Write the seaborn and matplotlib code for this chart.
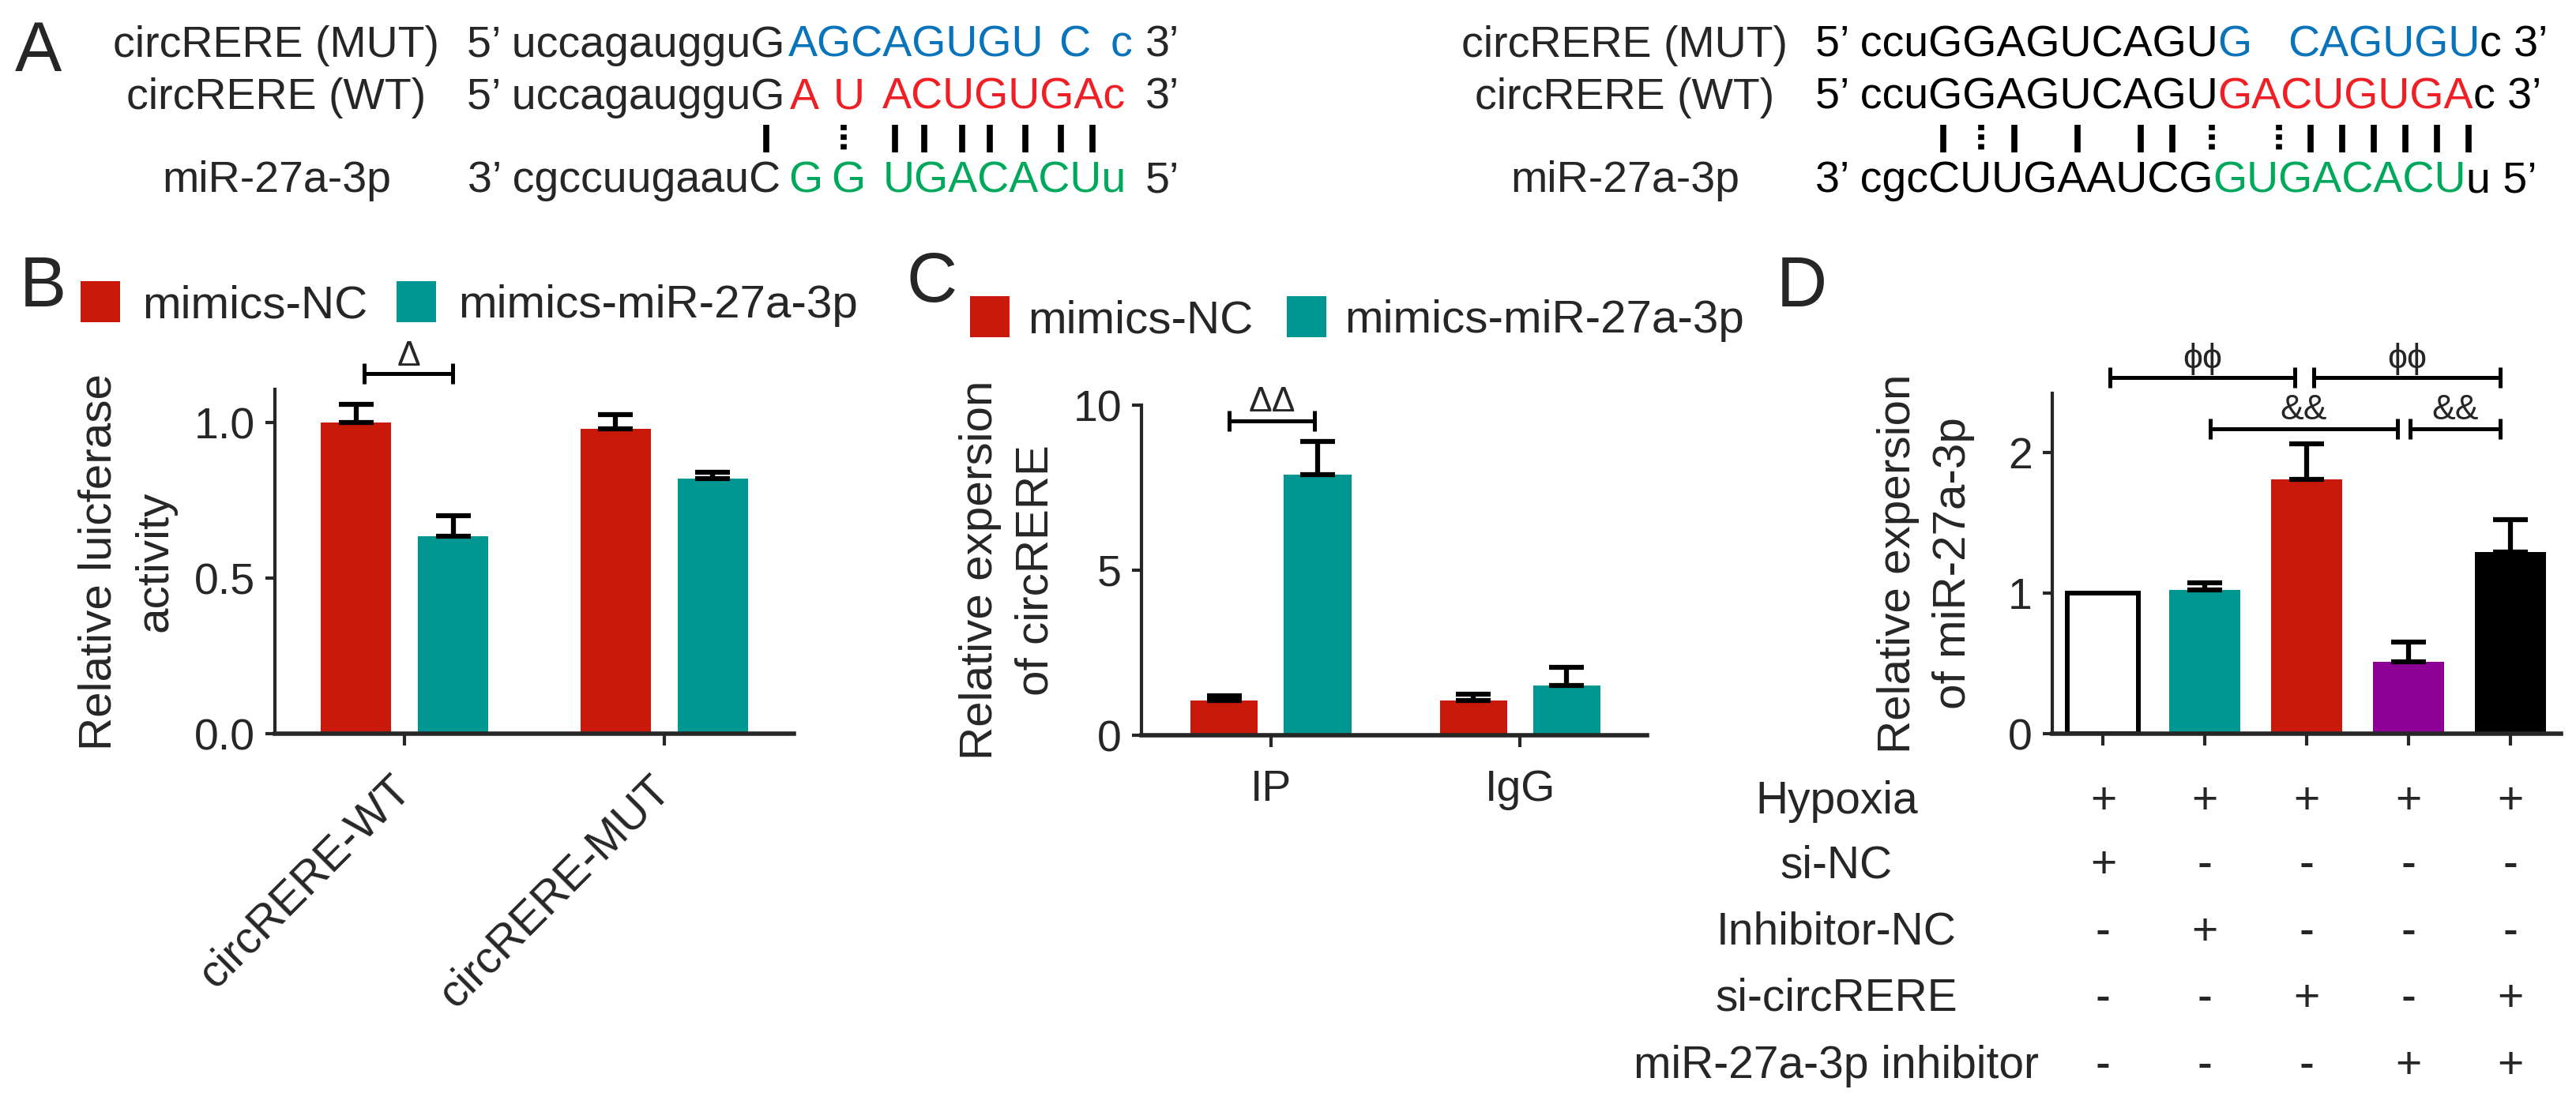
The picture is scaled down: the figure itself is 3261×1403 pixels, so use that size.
import numpy as np
import pandas as pd
import matplotlib
matplotlib.use('Agg')
import matplotlib.pyplot as plt
import seaborn as sns
from matplotlib.transforms import blended_transform_factory

# ---- data ----
treatments = ["mimics-NC", "mimics-miR-27a-3p"]

b_constructs = ["circRERE-WT", "circRERE-MUT"]
b_nc = [1.00, 0.98]
b_nc_err = [0.06, 0.045]
b_mimic = [0.635, 0.82]
b_mimic_err = [0.065, 0.02]

c_groups = ["IP", "IgG"]
c_nc = [1.05, 1.05]
c_nc_err = [0.15, 0.2]
c_mimic = [7.9, 1.5]
c_mimic_err = [1.0, 0.55]

d_groups = ["g1", "g2", "g3", "g4", "g5"]
d_values = [1.0, 1.02, 1.81, 0.51, 1.29]
d_err = [0.0, 0.05, 0.25, 0.14, 0.23]

d_rows = ["Hypoxia", "si-NC", "Inhibitor-NC", "si-circRERE", "miR-27a-3p inhibitor"]
d_signs = [["+", "+", "+", "+", "+"],
           ["+", "-", "-", "-", "-"],
           ["-", "+", "-", "-", "-"],
           ["-", "-", "+", "-", "+"],
           ["-", "-", "-", "+", "+"]]

RED = "#C8190B"
TEAL = "#009692"
PURPLE = "#8C0096"
BLUE = "#0A74BA"
TRED = "#EE2026"
GREEN = "#00A85C"
d_colors = ["white", TEAL, RED, PURPLE, "black"]

W, H = 3262, 1403
sns.set_theme(style="ticks")
plt.rcParams['font.family'] = ['Liberation Sans', 'DejaVu Sans']
plt.rcParams['axes.unicode_minus'] = False

fig = plt.figure(figsize=(W / 100, H / 100), dpi=100)
renderer = fig.canvas.get_renderer()
ov = fig.add_axes([0, 0, 1, 1])
ov.set_xlim(0, W)
ov.set_ylim(H, 0)
ov.axis('off')


def axes_px(left, top, right, bottom):
    a = fig.add_axes([left / W, 1 - bottom / H, (right - left) / W, (bottom - top) / H])
    a.set_facecolor('none')
    return a


def style(ax):
    sns.despine(ax=ax)
    ax.spines['left'].set_linewidth(3)
    ax.spines['bottom'].set_linewidth(4)
    ax.tick_params(axis='y', direction='out', length=9, width=3, labelsize=40, pad=9)
    ax.tick_params(axis='x', direction='out', length=11, width=3, labelsize=40)
    ax.set_xlabel('')


def add_errors(ax, bars, errs):
    for bar, e in zip(bars, errs):
        if e <= 0:
            continue
        x = bar.get_x() + bar.get_width() / 2
        ax.errorbar(x, bar.get_height(), yerr=[[0], [e]], fmt='none', ecolor='black',
                    elinewidth=4.5, capsize=16, capthick=4.5, clip_on=False, zorder=3)


def ppu(ax):
    lo, hi = ax.get_ylim()
    return ax.get_window_extent().height / (hi - lo)


def bracket(ax, x0, x1, y, text, gap_px=10, fs=32):
    s = ppu(ax)
    h = 13 / s
    kw = dict(color='black', lw=3.6, clip_on=False, solid_capstyle='butt')
    ax.plot([x0, x1], [y, y], **kw)
    ax.plot([x0, x0], [y - h, y + h], **kw)
    ax.plot([x1, x1], [y - h, y + h], **kw)
    ax.text((x0 + x1) / 2, y + gap_px / s, text, ha='center', va='baseline',
            fontsize=fs, clip_on=False)


def legend(ax, x_px, y_px, textpad, colspace):
    hnd, lab = ax.get_legend_handles_labels()
    if ax.get_legend() is not None:
        ax.get_legend().remove()
    ax.legend(hnd, lab, ncol=2, frameon=False, loc='center left',
              bbox_to_anchor=(x_px / W, 1 - y_px / H), bbox_transform=fig.transFigure,
              fontsize=42, handlelength=0.86, handleheight=1.0,
              handletextpad=textpad, columnspacing=colspace,
              borderpad=0, borderaxespad=0)


FS = 40


def chain(x, y, parts):
    # write coloured pieces one after another on the same baseline
    for s, col, gap in parts:
        x += gap
        t = ov.text(x, y, s, color=col, va='baseline', fontsize=FS)
        bb = t.get_window_extent(renderer)
        x = ov.transData.inverted().transform((bb.x1, bb.y0))[0]
    return x


# ---- panel A: sequence alignments ----
rows_y = [72, 138, 243]
labels_a = ["circRERE (MUT)", "circRERE (WT)", "miR-27a-3p"]
for cx in (350, 2057):
    for s, y in zip(labels_a, rows_y):
        ov.text(cx, y, s, ha='center', va='baseline', fontsize=FS)

ov.text(19, 90, "A", fontsize=64, va='baseline')

# left alignment
ov.text(993, rows_y[0], "5\u2019 uccagaugguG", ha='right', va='baseline', fontsize=FS)
ov.text(998, rows_y[0], "AGCAGUGU", color=BLUE, va='baseline', fontsize=FS)
ov.text(1360, rows_y[0], "C", color=BLUE, ha='center', va='baseline', fontsize=FS)
ov.text(1420, rows_y[0], "c", color=BLUE, ha='center', va='baseline', fontsize=FS)
ov.text(1450, rows_y[0], "3\u2019", va='baseline', fontsize=FS)

ov.text(993, rows_y[1], "5\u2019 uccagaugguG", ha='right', va='baseline', fontsize=FS)
ov.text(1000, rows_y[1], "A", color=TRED, va='baseline', fontsize=FS)
ov.text(1055, rows_y[1], "U", color=TRED, va='baseline', fontsize=FS)
ov.text(1117, rows_y[1], "ACUGUGAc", color=TRED, va='baseline', fontsize=FS)
ov.text(1450, rows_y[1], "3\u2019", va='baseline', fontsize=FS)

ov.text(988, rows_y[2], "3\u2019 cgccuugaauC", ha='right', va='baseline', fontsize=FS)
ov.text(998, rows_y[2], "G", color=GREEN, va='baseline', fontsize=FS)
ov.text(1052, rows_y[2], "G", color=GREEN, va='baseline', fontsize=FS)
ov.text(1118, rows_y[2], "UGACACUu", color=GREEN, va='baseline', fontsize=FS)
ov.text(1450, rows_y[2], "5\u2019", va='baseline', fontsize=FS)

left_pairs = [(970, 's'), (1068, 'd'), (1133, 's'), (1170, 's'), (1218, 's'),
              (1253, 's'), (1298, 's'), (1343, 's'), (1383, 's')]

# right alignment
chain(2298, rows_y[0], [("5\u2019 ccuGGAGUCAGU", 'black', 0), ("G", BLUE, 0),
                        ("CAGUGU", BLUE, 45), ("c 3\u2019", 'black', 0)])
chain(2298, rows_y[1], [("5\u2019 ccuGGAGUCAGU", 'black', 0), ("GACUGUGA", TRED, 0),
                        ("c 3\u2019", 'black', 0)])
chain(2298, rows_y[2], [("3\u2019 cgcCUUGAAUCG", 'black', 0), ("GUGACACU", GREEN, 0),
                        ("u 5\u2019", 'black', 0)])

right_pairs = [(2460, 's'), (2508, 'd'), (2550, 's'), (2630, 's'), (2710, 's'),
               (2750, 's'), (2800, 'd'), (2885, 'd'), (2925, 's'), (2965, 's'),
               (3005, 's'), (3045, 's'), (3085, 's'), (3125, 's')]

for x, kind in left_pairs + right_pairs:
    if kind == 's':
        ov.plot([x, x], [158, 193], color='black', lw=5.5, solid_capstyle='butt')
    else:
        ov.plot([x, x], [158, 193], color='black', lw=5.5, ls=(0, (0.9, 0.7)),
                dash_capstyle='butt')

# ---- panel B ----
axB = axes_px(348, 493, 1005, 929)
df_b = pd.DataFrame({
    'construct': b_constructs * 2,
    'treatment': [treatments[0]] * 2 + [treatments[1]] * 2,
    'value': b_nc + b_mimic,
})
sns.barplot(data=df_b, x='construct', y='value', hue='treatment', order=b_constructs,
            hue_order=treatments, palette=[RED, TEAL], saturation=1, width=0.75,
            gap=0.28, errorbar=None, linewidth=0, ax=axB)
for cont, errs in zip(axB.containers, [b_nc_err, b_mimic_err]):
    add_errors(axB, cont, errs)
style(axB)
axB.set_xlim(-0.5, 1.5)
axB.set_ylim(0, 1.107)
axB.set_yticks([0, 0.5, 1.0])
axB.set_yticklabels(["0.0", "0.5", "1.0"])
axB.set_xticks([0, 1])
axB.set_xticklabels(b_constructs, rotation=45, ha='right', va='center',
                    rotation_mode='anchor', fontsize=41)
axB.tick_params(axis='x', pad=34)
axB.set_ylabel("Relative luicferase\nactivity", fontsize=42, linespacing=1.4, labelpad=16)
legend(axB, 102, 385, 0.48, 0.63)
bracket(axB, -0.155, 0.185, 1.157, "\u0394")
ov.text(25, 388, "B", fontsize=64, va='baseline')

# ---- panel C ----
axC = axes_px(1445, 513, 2085, 931)
df_c = pd.DataFrame({
    'group': c_groups * 2,
    'treatment': [treatments[0]] * 2 + [treatments[1]] * 2,
    'value': c_nc + c_mimic,
})
sns.barplot(data=df_c, x='group', y='value', hue='treatment', order=c_groups,
            hue_order=treatments, palette=[RED, TEAL], saturation=1, width=0.75,
            gap=0.28, errorbar=None, linewidth=0, ax=axC)
for cont, errs in zip(axC.containers, [c_nc_err, c_mimic_err]):
    add_errors(axC, cont, errs)
style(axC)
axC.set_xlim(-0.52, 1.51)
axC.set_ylim(0, 10)
axC.set_yticks([0, 5, 10])
axC.set_xticks([0, 1])
axC.set_xticklabels(c_groups)
axC.tick_params(axis='x', pad=20)
axC.set_ylabel("Relative expersion\nof circRERE", fontsize=42, linespacing=1.4, labelpad=14)
legend(axC, 1228, 404, 0.4, 0.72)
bracket(axC, -0.168, 0.175, 9.52, "\u0394\u0394", gap_px=12)
ov.text(1148, 382, "C", fontsize=64, va='baseline')

# ---- panel D ----
axD = axes_px(2598, 498, 3242, 929)
sns.barplot(x=d_groups, y=d_values, hue=d_groups, palette=d_colors, saturation=1,
            width=0.7, errorbar=None, linewidth=0, legend=False, ax=axD)
bars_d = sorted(axD.patches, key=lambda p: p.get_x())
bars_d[0].set_edgecolor('black')
bars_d[0].set_linewidth(4.3)
add_errors(axD, bars_d, d_err)
style(axD)
axD.set_xlim(-0.5, 4.5)
axD.set_ylim(0, 2.42)
axD.set_yticks([0, 1, 2])
axD.set_xticks(range(len(d_groups)))
axD.tick_params(axis='x', labelbottom=False)
axD.set_ylabel("Relative expersion\nof miR-27a-3p", fontsize=42, linespacing=1.4, labelpad=30)
for x0, x1, y, t in [(0.07, 1.88, 2.53, "\u03d5\u03d5"), (2.07, 3.90, 2.53, "\u03d5\u03d5"),
                     (1.05, 2.89, 2.17, "&&"), (3.02, 3.90, 2.17, "&&")]:
    bracket(axD, x0, x1, y, t, gap_px=12)
ov.text(2249, 388, "D", fontsize=64, va='baseline')

tr = blended_transform_factory(axD.transData, ov.transData)
rows_yd = [1015, 1096, 1181, 1265, 1350]
for name, signs, y in zip(d_rows, d_signs, rows_yd):
    ov.text(2325, y, name, ha='center', va='center', fontsize=41)
    for i, s in enumerate(signs):
        ov.text(i, y, s, ha='center', va='center', fontsize=41, transform=tr)

fig.savefig("out.png", dpi=100)
